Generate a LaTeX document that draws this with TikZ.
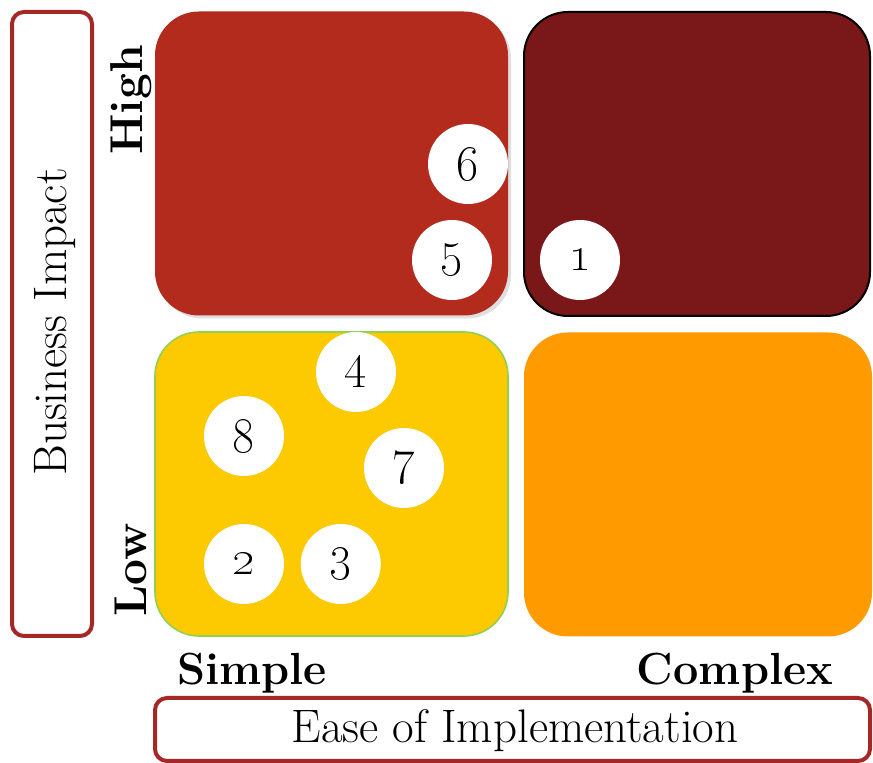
\documentclass[tikz,border=0pt]{standalone}
\usepackage{tikz}
\usetikzlibrary{positioning}
\usetikzlibrary{shadows}
\definecolor{hiredc}{HTML}{B22B1D}
\definecolor{maroonc}{HTML}{7A1719}
\definecolor{yellowc}{HTML}{FDC900}
\definecolor{orangec}{HTML}{FF9B00}
\definecolor{framec}{HTML}{A52726}
\definecolor{greenc}{HTML}{92D050}

\begin{document}
\begin{tikzpicture}[x=0.5pt,y=-0.5pt]
 \tikzstyle{quad node}=[rectangle,rounded corners=22pt,inner sep=0,minimum width=176.5pt,minimum height=152pt]
 \tikzstyle{item node}=[circle,fill=white,inner sep=0,minimum size=40pt,font=\fontsize{24}{28}\selectfont]
 \tikzstyle{axis node}=[rectangle,rounded corners=6pt,draw=framec,line width=2pt,inner sep=0]
 \tikzset{
 	level node/.style={rotate=90,font=\bfseries\fontsize{23}{27}\selectfont},
 	scale node/.style={font=\bfseries\fontsize{22.5}{27}\selectfont},
 	axis text/.style={font=\fontsize{23.5}{28}\selectfont}
 }
 \useasboundingbox (0,0) rectangle (873,763);

       % quadrants
       \node[quad node,fill=hiredc,drop shadow={opacity=0.25,shadow xshift=1.5pt,shadow yshift=-1.5pt}] (hs) at (331.5,163.5) {};
       \node[quad node,fill=maroonc,draw=black,line width=1pt,minimum width=173pt] (hc) at (697,164) {};
       \node[quad node,fill=yellowc,draw=greenc,line width=0.8pt] (ls) at (331.5,484) {};
       \node[quad node,fill=orangec,minimum width=174pt] (lc) at (698,484.5) {};

       % axes
       \node[axis node,minimum width=40pt,minimum height=312pt] (yaxis) at (52,324) {};
       \node[axis text,rotate=90] (ylab) at (55,322) {Business Impact};
       \node[axis node,minimum width=357.5pt,minimum height=31.5pt] (xaxis) at (512.5,729.5) {};
       \node[axis text] (xlab) at (515,731) {Ease of Implementation};

       \node[level node] (high) at (131,100) {High};
       \node[level node] (low) at (131,570) {Low};
       \node[scale node] (simple) at (252,673) {Simple};
       \node[scale node] (complex) at (735,673) {Complex};

       % items
       \node[item node] (i6) at (468,164) {\oldstylenums{6}};
       \node[item node] (i5) at (452,260) {\oldstylenums{5}};
       \node[item node] (i1) at (580,260) {\oldstylenums{1}};
       \node[item node] (i4) at (356,372) {\oldstylenums{4}};
       \node[item node] (i8) at (244,436) {\oldstylenums{8}};
       \node[item node] (i7) at (404,468) {\oldstylenums{7}};
       \node[item node] (i2) at (244,564) {\oldstylenums{2}};
       \node[item node] (i3) [right=8pt of i2] {\oldstylenums{3}};

 \end{tikzpicture}
\end{document}
